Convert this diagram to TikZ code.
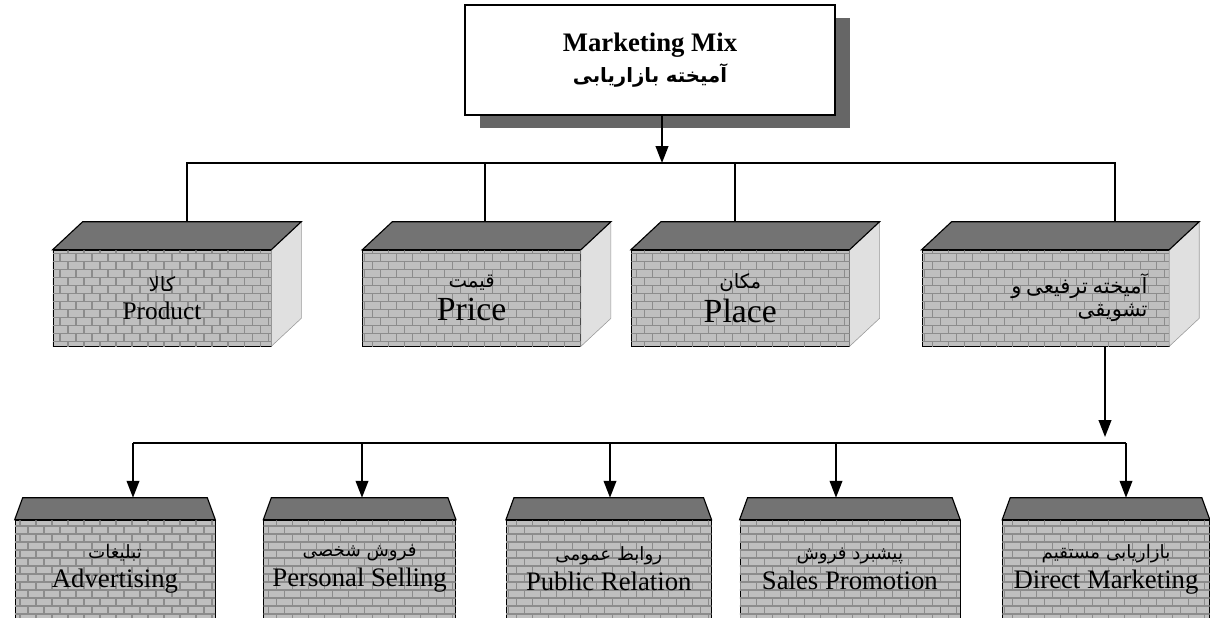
\documentclass[tikz,border=0pt]{standalone}
\usepackage{fontspec}
\setmainfont{Liberation Serif}
\newfontfamily\farsi[Script=Arabic]{DejaVu Sans}
\TeXXeTstate=1
\usetikzlibrary{arrows.meta, calc, positioning, shadows, patterns}

\tikzstyle{mixbox} = [rectangle, minimum width=9.25cm, minimum height=2.75cm, text centered, align=center, draw=black, line width=1.2pt, fill=white, drop shadow={shadow xshift=0.38cm, shadow yshift=-0.33cm, fill=black!60, opacity=1}]
\tikzstyle{cube} = [rectangle, minimum width=5.45cm, minimum height=2.4cm, text centered, align=center, draw=black, fill=black!25, postaction={pattern=bricks, pattern color=black!45}]
\tikzstyle{tool} = [rectangle, minimum width=5cm, minimum height=2.45cm, text centered, align=center, draw=black, fill=black!25, postaction={pattern=bricks, pattern color=black!45}]
\tikzstyle{lid} = [draw=black, line width=0.8pt, fill=black!55]
\tikzstyle{flank} = [draw=black!40, fill=black!12]
\tikzstyle{line} = [line width=1.2pt]
\tikzstyle{arrow} = [line width=1.2pt,->,>={Triangle[length=12pt,width=9pt]}]

\newcommand{\fa}[1]{{\farsi\beginR #1\endR}}

\begin{document}
\begin{tikzpicture}[x=0.025cm, y=-0.025cm]
\useasboundingbox (0,0) rectangle (1210,618);

% marketing mix
\node (mix) [mixbox] at (650,60) {{\bfseries\fontsize{19}{22}\selectfont Marketing Mix}\\[4pt]{\farsi\bfseries\fontsize{14}{17}\selectfont\beginR آمیخته بازاریابی\endR}};

% four p's
\node (product) [cube] at (162,298) {{\fontsize{14}{16}\selectfont\fa{کالا}}\\[6pt]{\fontsize{18}{20}\selectfont Product}};
\node (price) [cube, right=2.275cm of product] {{\fontsize{14}{16}\selectfont\fa{قیمت}}\\[4pt]{\fontsize{24}{26}\selectfont Price}};
\node (place) [cube, right=1.25cm of price] {{\fontsize{14}{16}\selectfont\fa{مکان}}\\[4pt]{\fontsize{24}{26}\selectfont Place}};
\node (promo) [cube, minimum width=6.175cm, text width=5.1cm, align=right, right=1.8cm of place] {{\fontsize{15}{17}\selectfont\fa{آمیخته ترفیعی و}}\\[3pt]{\fontsize{15}{17}\selectfont\fa{تشویقی}}};

\foreach \n in {product,price,place,promo} {
  \draw [flank] (\n.north east) -- ++(30,-28) -- ($(\n.south east)+(30,-28)$) -- (\n.south east) -- cycle;
  \draw [lid] (\n.north west) -- ++(30,-28) -- ($(\n.north east)+(30,-28)$) -- (\n.north east) -- cycle;
  \coordinate (top-\n) at ($(\n.north)+(0,-28)$);
}

% promotion tools
\node (adv) [tool] at (115,569) {{\fontsize{13}{15}\selectfont\fa{تبلیغات}}\\[4pt]{\fontsize{19}{21}\selectfont Advertising}};
\node (pers) [tool, minimum width=4.8cm, right=1.2cm of adv] {{\fontsize{13}{15}\selectfont\fa{فروش شخصی}}\\[4pt]{\fontsize{19}{21}\selectfont Personal Selling}};
\node (pub) [tool, minimum width=5.125cm, right=1.25cm of pers] {{\fontsize{13}{15}\selectfont\fa{روابط عمومی}}\\[4pt]{\fontsize{19}{21}\selectfont Public Relation}};
\node (sales) [tool, minimum width=5.5cm, right=0.7cm of pub] {{\fontsize{13}{15}\selectfont\fa{پیشبرد فروش}}\\[4pt]{\fontsize{19}{21}\selectfont Sales Promotion}};
\node (direct) [tool, minimum width=5.175cm, right=1.05cm of sales] {{\fontsize{13}{15}\selectfont\fa{بازاریابی مستقیم}}\\[4pt]{\fontsize{19}{21}\selectfont Direct Marketing}};

\foreach \n in {adv,pers,pub,sales,direct} {
  \draw [lid] (\n.north west) -- ++(8,-22) -- ($(\n.north east)+(-8,-22)$) -- (\n.north east) -- cycle;
  \coordinate (top-\n) at ($(\n.north)+(0,-22)$);
}

% connectors
\coordinate (split) at (662,163);
\coordinate (j1) at (187,163);
\coordinate (j2) at (485,163);
\coordinate (j3) at (735,163);
\coordinate (j4) at (1115,163);
\draw [arrow] (mix.south -| split) -- (split);
\draw [line] (j1 |- top-product) -- (j1) -- (j4) -- (j4 |- top-promo);
\draw [line] (j2) -- (j2 |- top-price);
\draw [line] (j3) -- (j3 |- top-place);

\coordinate (drop) at (1105,437);
\coordinate (k1) at (133,443);
\coordinate (k2) at (362,443);
\coordinate (k3) at (610,443);
\coordinate (k4) at (836,443);
\coordinate (k5) at (1126,443);
\draw [arrow] (drop |- promo.south) -- (drop);
\draw [line] (k1) -- (k5);
\foreach \k/\n in {k1/adv, k2/pers, k3/pub, k4/sales, k5/direct}
  \draw [arrow] (\k) -- (\k |- top-\n);
\end{tikzpicture}
\end{document}
